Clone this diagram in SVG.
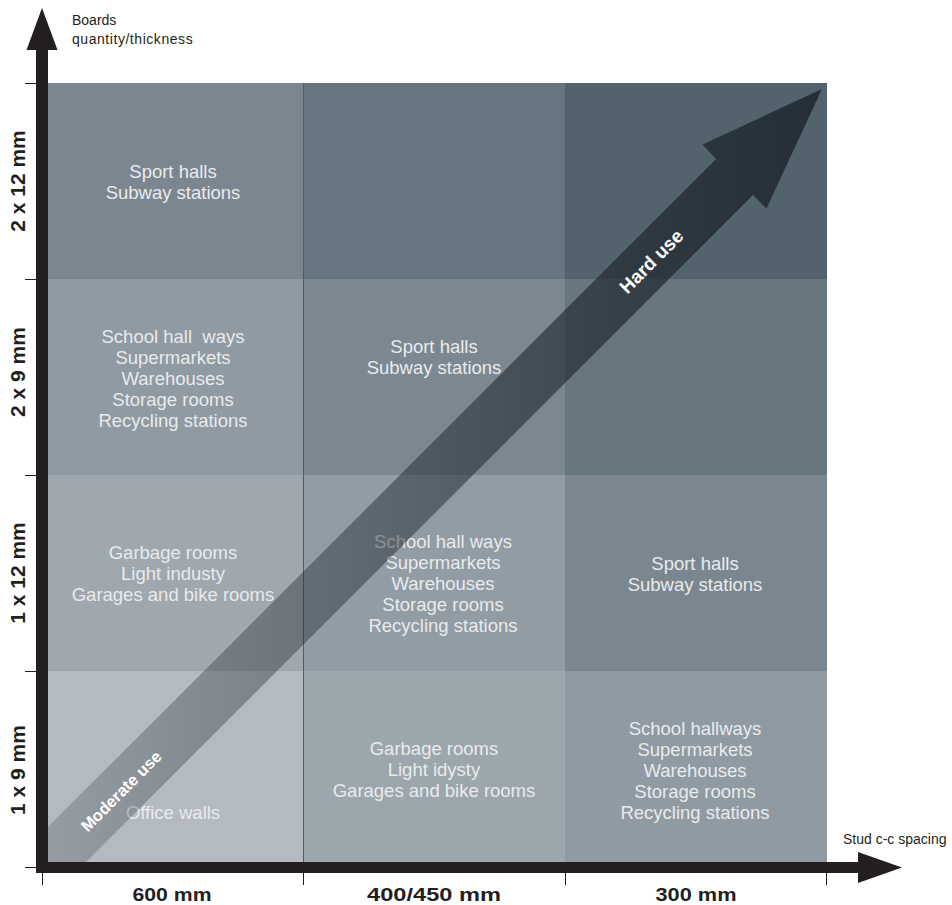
<svg xmlns="http://www.w3.org/2000/svg" width="952" height="905" viewBox="0 0 952 905">
<style>
.cell{stroke:none}
.ct{font-family:"Liberation Sans",Arial,sans-serif;font-size:18.5px;fill:#e8ebee;text-anchor:middle}
.ax{font-family:"Liberation Sans",Arial,sans-serif;font-size:21px;font-weight:bold;fill:#231f20;text-anchor:middle}
.bx{font-family:"Liberation Sans",Arial,sans-serif;font-size:19px;font-weight:bold;fill:#231f20;text-anchor:middle}
.sm{font-family:"Liberation Sans",Arial,sans-serif;font-size:14px;fill:#231f20}
.use{font-family:"Liberation Sans",Arial,sans-serif;font-weight:bold;fill:#ffffff;text-anchor:middle}
.tick{stroke:#231f20;stroke-width:1}
</style>
<defs>
<linearGradient id="shaftGrad" gradientUnits="userSpaceOnUse" x1="42" y1="0" x2="822" y2="0">
<stop offset="0" stop-color="#1f272e" stop-opacity="0.2"/>
<stop offset="0.5" stop-color="#1f272e" stop-opacity="0.5"/>
<stop offset="1" stop-color="#1f272e" stop-opacity="0.88"/>
</linearGradient>
</defs>

<g id="cells">
<rect class="cell" x="42" y="83" width="261" height="196" fill="#7b8690"/>
<rect class="cell" x="303" y="83" width="262" height="196" fill="#66757f"/>
<rect class="cell" x="565" y="83" width="262" height="196" fill="#52636e"/>
<rect class="cell" x="42" y="279" width="261" height="196" fill="#8f9aa3"/>
<rect class="cell" x="303" y="279" width="262" height="196" fill="#7c8891"/>
<rect class="cell" x="565" y="279" width="262" height="196" fill="#67767f"/>
<rect class="cell" x="42" y="475" width="261" height="196" fill="#9fa8ae"/>
<rect class="cell" x="303" y="475" width="262" height="196" fill="#919ca4"/>
<rect class="cell" x="565" y="475" width="262" height="196" fill="#7b8790"/>
<rect class="cell" x="42" y="671" width="261" height="197" fill="#b3bac1"/>
<rect class="cell" x="303" y="671" width="262" height="197" fill="#9ca6ad"/>
<rect class="cell" x="565" y="671" width="262" height="197" fill="#8f9aa3"/>
<line x1="303.5" y1="83" x2="303.5" y2="868" stroke="#4f5d68" stroke-width="1"/>
</g>

<g id="cell-2x12-600">
<text class="ct" x="173" y="178">Sport halls</text>
<text class="ct" x="173" y="199">Subway stations</text>
</g>
<g id="cell-2x9-600">
<text class="ct" x="173" y="343" style="white-space:pre">School hall  ways</text>
<text class="ct" x="173" y="364">Supermarkets</text>
<text class="ct" x="173" y="385">Warehouses</text>
<text class="ct" x="173" y="406">Storage rooms</text>
<text class="ct" x="173" y="427">Recycling stations</text>
</g>
<g id="cell-1x12-600">
<text class="ct" x="173" y="559">Garbage rooms</text>
<text class="ct" x="173" y="580">Light industy</text>
<text class="ct" x="173" y="601">Garages and bike rooms</text>
</g>
<g id="cell-1x9-600">
<text class="ct" x="173" y="819">Office walls</text>
</g>
<g id="cell-2x9-400">
<text class="ct" x="434" y="353">Sport halls</text>
<text class="ct" x="434" y="374">Subway stations</text>
</g>
<g id="cell-1x12-400">
<text class="ct" x="443" y="548">School hall ways</text>
<text class="ct" x="443" y="569">Supermarkets</text>
<text class="ct" x="443" y="590">Warehouses</text>
<text class="ct" x="443" y="611">Storage rooms</text>
<text class="ct" x="443" y="632">Recycling stations</text>
</g>
<g id="cell-1x9-400">
<text class="ct" x="434" y="755">Garbage rooms</text>
<text class="ct" x="434" y="776">Light idysty</text>
<text class="ct" x="434" y="797">Garages and bike rooms</text>
</g>
<g id="cell-1x12-300">
<text class="ct" x="695" y="570">Sport halls</text>
<text class="ct" x="695" y="591">Subway stations</text>
</g>
<g id="cell-1x9-300">
<text class="ct" x="695" y="735">School hallways</text>
<text class="ct" x="695" y="756">Supermarkets</text>
<text class="ct" x="695" y="777">Warehouses</text>
<text class="ct" x="695" y="798">Storage rooms</text>
<text class="ct" x="695" y="819">Recycling stations</text>
</g>

<g id="use-arrow">
<polygon points="42,833 716,159 702.5,144.5 822,89 766.5,208.5 753,195 80,868 42,868" fill="url(#shaftGrad)"/>
<text class="use" font-size="16.5" transform="translate(121,791) rotate(-45)" y="6">Moderate use</text>
<text class="use" font-size="19" transform="translate(651,261) rotate(-45)" y="7">Hard use</text>
</g>

<g id="connectors">
<polygon points="42,8 57.5,50 26.5,50" fill="#231f20"/>
<rect x="36" y="49" width="12" height="824" fill="#231f20"/>
<rect x="36" y="862" width="823" height="11" fill="#231f20"/>
<polygon points="902,867.5 858,852 858,883" fill="#231f20"/>
<line class="tick" x1="25" y1="83.5" x2="36" y2="83.5"/>
<line class="tick" x1="25" y1="279.5" x2="36" y2="279.5"/>
<line class="tick" x1="25" y1="475.5" x2="36" y2="475.5"/>
<line class="tick" x1="25" y1="671.5" x2="36" y2="671.5"/>
<line class="tick" x1="25" y1="867.5" x2="36" y2="867.5"/>
<line class="tick" x1="42.5" y1="873" x2="42.5" y2="885"/>
<line class="tick" x1="303.5" y1="873" x2="303.5" y2="885"/>
<line class="tick" x1="565.5" y1="873" x2="565.5" y2="885"/>
<line class="tick" x1="826.5" y1="873" x2="826.5" y2="885"/>
</g>

<g id="y-axis-labels">
<text class="sm" x="72" y="25">Boards</text>
<text class="sm" x="72" y="44" letter-spacing="0.55">quantity/thickness</text>
<text class="ax" transform="translate(25,181) rotate(-90)">2 x 12 mm</text>
<text class="ax" transform="translate(25,372) rotate(-90)">2 x 9 mm</text>
<text class="ax" transform="translate(25,573) rotate(-90)">1 x 12 mm</text>
<text class="ax" transform="translate(25,770) rotate(-90)">1 x 9 mm</text>
</g>
<g id="x-axis-labels">
<text class="sm" x="843" y="844">Stud c-c spacing</text>
<text class="bx" x="172" y="901" textLength="79" lengthAdjust="spacingAndGlyphs">600 mm</text>
<text class="bx" x="434" y="901" textLength="134" lengthAdjust="spacingAndGlyphs">400/450 mm</text>
<text class="bx" x="696" y="901" textLength="81" lengthAdjust="spacingAndGlyphs">300 mm</text>
</g>
</svg>
